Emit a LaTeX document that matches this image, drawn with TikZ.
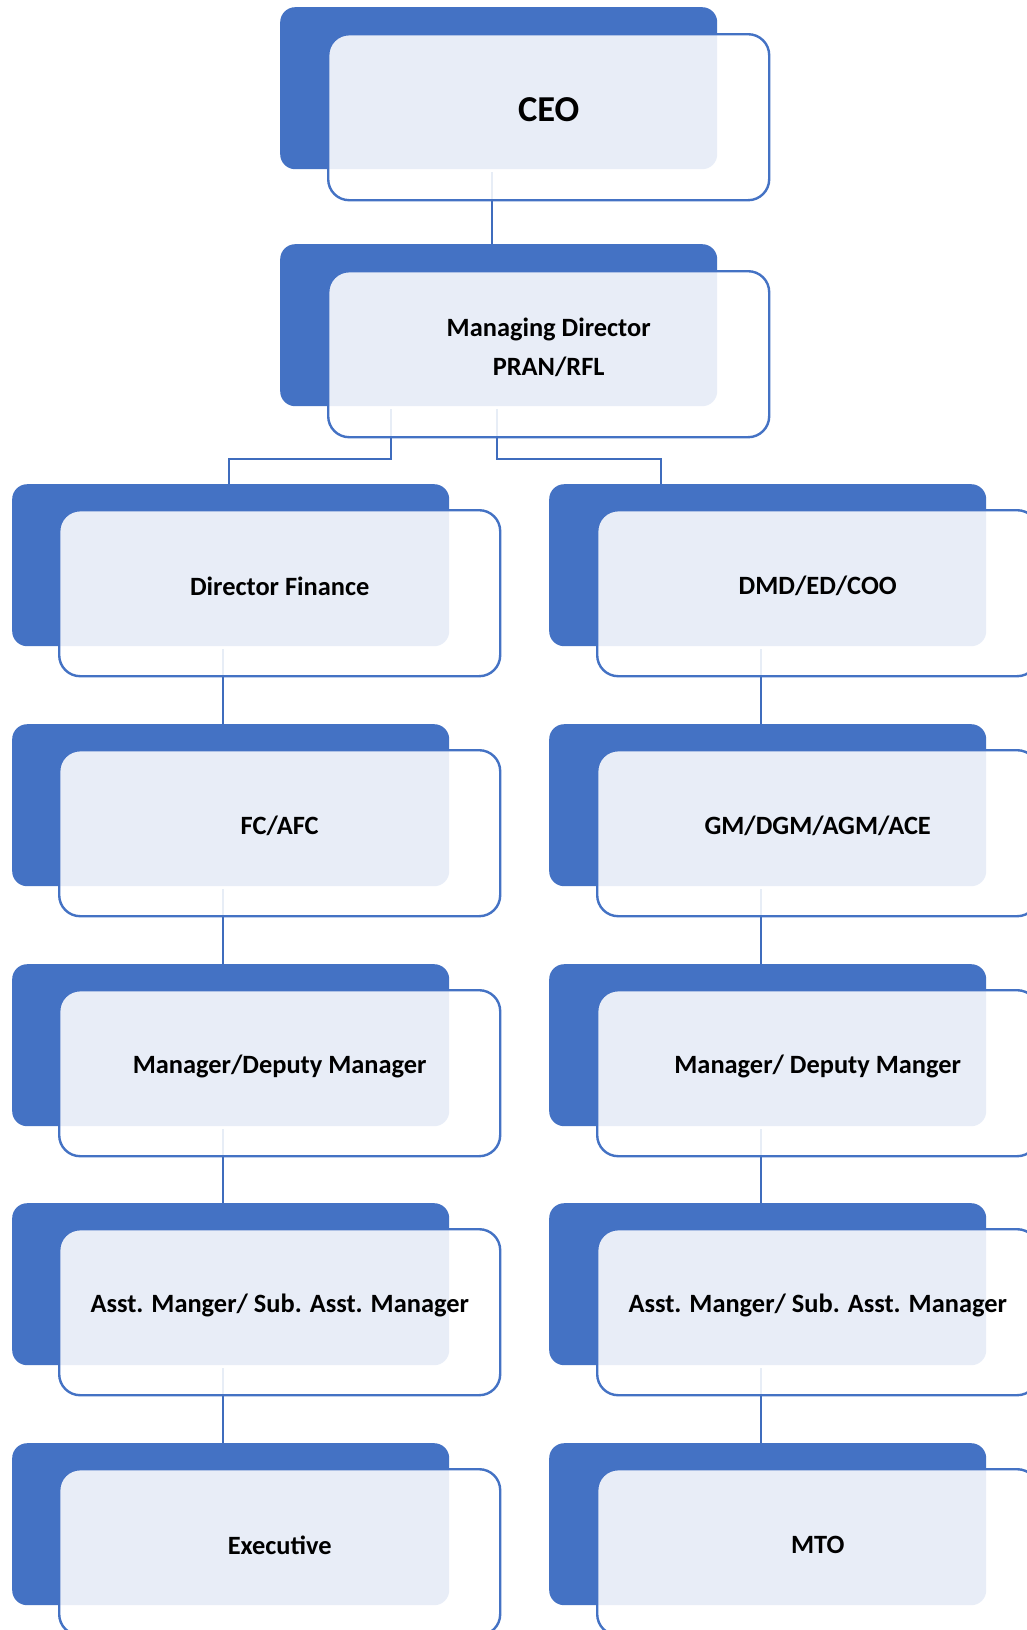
\documentclass[tikz,border=0pt]{standalone}
\usepackage{fontspec}
\setmainfont{Carlito}
\usetikzlibrary{calc}
\definecolor{accent}{HTML}{4472C4}
\definecolor{connc}{HTML}{3F6CBD}
\tikzset{
  back/.style={fill=accent, draw=none, rounded corners=15pt, minimum width=437pt, minimum height=162pt, inner sep=0pt, anchor=north west},
  front/.style={draw=accent, line width=2.4pt, fill=white, fill opacity=0.88, rounded corners=21pt, minimum width=441pt, minimum height=166pt, inner sep=0pt, anchor=north west},
  lbl/.style={font=\bfseries\fontsize{26.4}{39.5}\selectfont, align=center, text=black, inner sep=0pt},
  biglbl/.style={font=\bfseries\fontsize{36.5}{44}\selectfont, align=center, text=black, inner sep=0pt},
  conn/.style={draw=connc, line width=2.4pt},
}
\begin{document}
\begin{tikzpicture}[x=1pt,y=-1pt]
\clip (0,0) rectangle (1027,1630);
\fill[white] (0,0) rectangle (1027,1630);
% back (dark) boxes
\node[back] (ceoB) at (280,7) {};
\node[back] (mdB) at (280,244) {};
\node[back] (l1B) at (12,484) {};
\node[back] (l2B) at (12,724) {};
\node[back] (l3B) at (12,964) {};
\node[back] (l4B) at (12,1203) {};
\node[back] (l5B) at (12,1443) {};
\node[back] (r1B) at (549,484) {};
\node[back] (r2B) at (549,724) {};
\node[back] (r3B) at (549,964) {};
\node[back] (r4B) at (549,1203) {};
\node[back] (r5B) at (549,1443) {};
% connectors
\draw[conn] ($(ceoB.south west)+(212,3)$) -- ($(mdB.north west)+(212,0)$);
\draw[conn] ($(mdB.south west)+(111,3)$) |- ($(l1B.north west)+(217,-25)$) -- ($(l1B.north west)+(217,0)$);
\draw[conn] ($(mdB.south west)+(217,3)$) |- ($(r1B.north west)+(112,-25)$) -- ($(r1B.north west)+(112,0)$);
\foreach \a/\b in {l1B/l2B,l2B/l3B,l3B/l4B,l4B/l5B}{
  \draw[conn] ($(\a.south west)+(211,3)$) -- ($(\b.north west)+(211,0)$);
}
\foreach \a/\b in {r1B/r2B,r2B/r3B,r3B/r4B,r4B/r5B}{
  \draw[conn] ($(\a.south west)+(212,3)$) -- ($(\b.north west)+(212,0)$);
}
% front (outlined, translucent) boxes
\node[front] (ceo) at (327,33) {};
\node[front] (md) at (327,270) {};
\node[front] (l1) at (58,509) {};
\node[front] (l2) at (58,749) {};
\node[front] (l3) at (58,989) {};
\node[front] (l4) at (58,1228) {};
\node[front] (l5) at (58,1468) {};
\node[front] (r1) at (596,509) {};
\node[front] (r2) at (596,749) {};
\node[front] (r3) at (596,989) {};
\node[front] (r4) at (596,1228) {};
\node[front] (r5) at (596,1468) {};
% labels
\node[biglbl] (ceoT) at ($(ceo.center)+(0,-8)$) {CEO};
\node[lbl] (mdT) at ($(md.center)+(0,-7)$) {Managing Director\\PRAN/RFL};
\node[lbl] (l1T) at ($(l1.center)+(0,-7)$) {Director Finance};
\node[lbl] (l2T) at ($(l2.center)+(0,-7)$) {FC/AFC};
\node[lbl] (l3T) at ($(l3.center)+(0,-7)$) {Manager/Deputy Manager};
\node[lbl] (l4T) at ($(l4.center)+(0,-7)$) {Asst. Manger/ Sub. Asst. Manager};
\node[lbl] (l5T) at ($(l5.center)+(0,-7)$) {Executive};
\node[lbl] (r1T) at ($(r1.center)+(0,-7)$) {DMD/ED/COO};
\node[lbl] (r2T) at ($(r2.center)+(0,-7)$) {GM/DGM/AGM/ACE};
\node[lbl] (r3T) at ($(r3.center)+(0,-7)$) {Manager/ Deputy Manger};
\node[lbl] (r4T) at ($(r4.center)+(0,-7)$) {Asst. Manger/ Sub. Asst. Manager};
\node[lbl] (r5T) at ($(r5.center)+(0,-7)$) {MTO};
\end{tikzpicture}
\end{document}
